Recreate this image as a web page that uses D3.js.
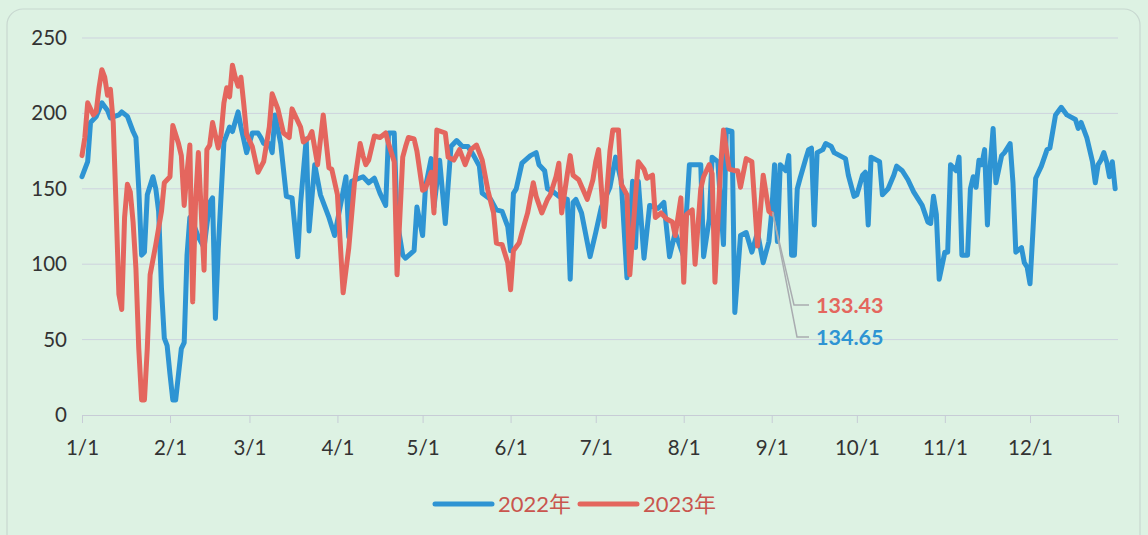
<!DOCTYPE html>
<html>
<head>
<meta charset="utf-8">
<script src="https://cdn.jsdelivr.net/npm/d3@7"></script>
<style>
  body { margin: 0; background: #ddf2e3; }
  text { font-family: Lato, "Noto Sans CJK SC", sans-serif; }
</style>
</head>
<body>
<script>
// day of year (0 = 1/1) and daily values
var days2022 = [0,2,3,5,7,9,10,13,14,16,18,19,20,21,22,23,25,26,27,28,29,30,31,32,33,34,35,36,37,38,39,41,43,45,46,47,48,50,52,53,55,56,58,60,62,63,64,66,67,68,70,72,74,76,77,79,80,82,84,87,89,93,94,95,99,101,103,105,107,108,110,111,113,114,117,118,120,121,123,124,126,128,130,132,134,136,138,140,141,144,146,148,150,151,152,153,155,158,160,161,163,164,166,168,171,172,173,174,176,179,181,183,186,188,190,192,194,195,196,198,200,203,205,207,209,212,214,218,219,221,222,224,226,227,229,230,232,234,236,238,240,242,243,244,245,246,248,249,250,251,252,253,255,256,257,258,259,261,262,264,265,267,269,270,272,273,275,276,277,278,279,281,282,284,286,287,289,291,293,296,298,299,300,301,302,304,305,306,308,309,310,312,313,314,315,316,317,318,319,320,321,322,324,325,327,328,329,331,332,333,334,335,336,338,340,341,342,343,345,347,350,351,352,354,356,357,358,359,360,361,362,363,364];
var values2022 = [158,168,194,198,207,202,197,199,201,198,188,184,150,106,108,146,158,150,135,84,51,46,27,10,10,27,44,48,106,131,128,118,111,141,144,64,110,181,191,188,201,191,174,187,187,184,180,180,174,199,180,145,144,105,140,183,122,166,146,131,119,158,118,155,158,154,157,147,139,187,187,129,106,104,109,138,119,151,170,138,169,127,178,182,178,178,172,165,147,143,136,135,125,109,147,150,167,172,174,166,162,150,148,145,143,90,141,143,134,105,121,138,151,171,155,91,155,111,155,104,139,137,141,105,121,105,166,166,105,130,171,168,113,189,188,68,119,121,108,121,101,115,134.65,166,115,166,162,172,106,106,150,157,170,176,177,126,174,176,180,178,174,172,170,159,145,146,159,161,126,171,170,168,146,150,159,165,162,156,148,139,128,127,145,133,90,108,108,166,162,171,106,106,150,158,151,169,166,176,126,166,190,154,172,174,180,154,108,111,101,98,87,121,157,165,176,177,188,199,204,199,196,190,194,184,168,154,166,169,174,168,158,168,150];

var days2023 = [0,1,2,4,5,6,7,8,9,10,11,12,13,14,15,16,17,18,19,20,21,22,23,24,26,28,29,31,32,34,35,36,37,38,39,40,41,43,44,45,46,48,49,50,51,52,53,54,55,56,57,58,60,62,64,66,67,69,71,73,74,76,77,78,80,81,83,85,87,88,90,92,94,96,98,99,100,101,103,105,107,108,110,111,113,114,115,117,118,120,121,123,124,125,128,129,131,133,135,137,139,141,143,145,146,148,150,151,152,154,155,157,159,160,162,164,165,167,168,169,171,172,173,175,178,180,181,182,183,184,186,187,189,190,192,193,195,196,198,199,201,202,204,206,208,209,211,212,213,215,216,218,219,221,222,223,225,226,228,230,231,232,234,236,238,240,242,243];
var values2023 = [172,184,207,199,201,217,229,224,212,216,194,139,80,70,131,153,148,128,97,44,10,10,44,93,113,135,154,158,192,180,172,139,161,179,75,141,174,96,176,179,194,177,186,207,217,211,232,224,218,224,206,186,178,161,168,191,213,203,187,184,203,195,191,181,184,188,166,199,164,163,146,81,111,154,180,172,166,169,185,184,187,180,168,93,171,178,184,183,175,149,150,161,134,189,187,171,169,176,166,176,179,169,149,134,114,113,101,83,109,114,121,134,154,145,134,143,146,158,167,134,160,172,159,156,143,156,168,176,150,125,175,189,189,153,146,93,145,168,163,157,159,131,134,130,128,119,144,88,133,136,100,150,158,166,160,88,165,189,163,162,162,151,170,168,112,159,135,133.43];

// axis labels
var monthStarts = [0,31,59,90,120,151,181,212,243,273,304,334];
var monthLabels = ["1/1","2/1","3/1","4/1","5/1","6/1","7/1","8/1","9/1","10/1","11/1","12/1"];
var yTicks = [0,50,100,150,200,250];
var seriesNames = ["2022年","2023年"];
var seriesColors = ["#2e94d3","#e4665e"];

window.onload = setChart();

function setChart(){
    var width = 1148,
        height = 535;

    var svg = d3.select("body")
        .append("svg")
        .attr("width", width)
        .attr("height", height);

    // faint rounded frame
    svg.append("rect")
        .attr("x", 7).attr("y", 9)
        .attr("width", 1133).attr("height", 560)
        .attr("rx", 16)
        .attr("fill", "none")
        .attr("stroke", "#c8d8d0")
        .attr("stroke-width", 1.2);

    var x = d3.scaleLinear()
        .domain([0, 365])
        .range([82, 1118]);

    var y = d3.scaleLinear()
        .domain([0, 250])
        .range([415, 38]);

    // gridlines
    svg.selectAll(".grid")
        .data(yTicks.slice(1))
        .enter()
        .append("line")
        .attr("x1", x(0)).attr("x2", x(365))
        .attr("y1", function(d){ return y(d); })
        .attr("y2", function(d){ return y(d); })
        .attr("stroke", "#cdd3de")
        .attr("stroke-width", 1);

    // y axis (labels only)
    var yAxis = svg.append("g")
        .attr("transform", "translate(67,0)")
        .call(d3.axisLeft(y).tickValues(yTicks).tickSize(0).tickPadding(0));
    yAxis.select(".domain").remove();
    yAxis.selectAll("text")
        .attr("font-size", 20.5)
        .attr("fill", "#333");

    // x axis with ticks at month starts
    var xAxis = svg.append("g")
        .attr("transform", "translate(0," + y(0) + ")")
        .call(d3.axisBottom(x)
            .tickValues(monthStarts.concat([365]))
            .tickFormat(function(d, i){ return monthLabels[i] || ""; })
            .tickSizeInner(8)
            .tickSizeOuter(0)
            .tickPadding(17));
    xAxis.select(".domain").attr("stroke", "#c7ccd6");
    xAxis.selectAll(".tick line").attr("stroke", "#c7ccd6");
    xAxis.selectAll("text")
        .attr("font-size", 20.5)
        .attr("fill", "#333");

    var line = d3.line()
        .x(function(d){ return x(d[0]); })
        .y(function(d){ return y(d[1]); });

    var series = [
        d3.zip(days2022, values2022),
        d3.zip(days2023, values2023)
    ];

    svg.selectAll(".series")
        .data(series)
        .enter()
        .append("path")
        .attr("class", "series")
        .attr("d", line)
        .attr("fill", "none")
        .attr("stroke", function(d, i){ return seriesColors[i]; })
        .attr("stroke-width", 5)
        .attr("stroke-linejoin", "round")
        .attr("stroke-linecap", "round");

    // callouts for the latest 2023 value and same day of 2022
    var lastDay = days2023[days2023.length - 1],
        last2023 = values2023[values2023.length - 1],
        same2022 = values2022[days2022.indexOf(lastDay)];

    var callouts = [
        {v: last2023, ty: 305, color: seriesColors[1]},
        {v: same2022, ty: 337, color: seriesColors[0]}
    ];

    callouts.forEach(function(c, i){
        svg.append("polyline")
            .attr("points", [
                [x(lastDay) + 1, y(c.v)],
                [794 + i * 3, c.ty],
                [809, c.ty]
            ].join(" "))
            .attr("fill", "none")
            .attr("stroke", "#a9acb0")
            .attr("stroke-width", 1.5);
        svg.append("text")
            .attr("x", 816)
            .attr("y", c.ty)
            .attr("dy", "0.36em")
            .attr("font-size", 21.5)
            .attr("font-weight", "bold")
            .attr("fill", c.color)
            .text(d3.format(".2f")(c.v));
    });

    // legend
    var legendX = [435, 580];
    seriesNames.forEach(function(name, i){
        var g = svg.append("g")
            .attr("transform", "translate(" + legendX[i] + ",504)");
        g.append("line")
            .attr("x1", 0).attr("x2", 57)
            .attr("stroke", seriesColors[i])
            .attr("stroke-width", 5)
            .attr("stroke-linecap", "round");
        g.append("text")
            .attr("x", 63)
            .attr("dy", "0.36em")
            .attr("font-size", 22)
            .attr("fill", "#c9554e")
            .text(name);
    });
}
</script>
</body>
</html>
